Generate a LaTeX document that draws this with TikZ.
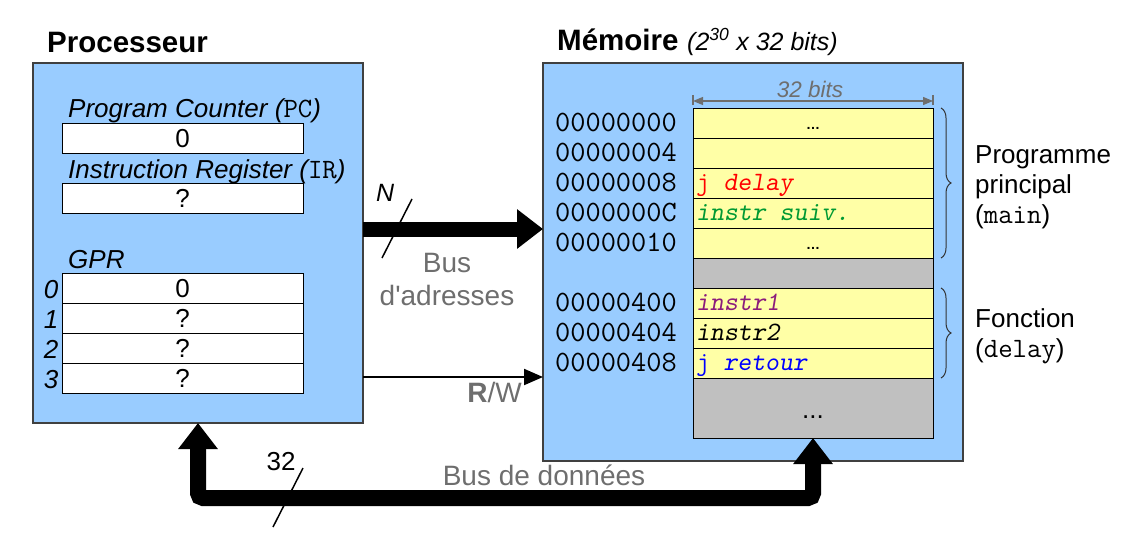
\documentclass[tikz,border=0pt]{standalone}
\usepackage{fontspec}
\setmainfont{Liberation Sans}
\newfontfamily\ttsl{Latin Modern Mono Slanted}
\usetikzlibrary{arrows.meta,decorations.pathreplacing,calc}
\definecolor{blu}{HTML}{99CCFF}
\definecolor{yel}{HTML}{FFFFA6}
\definecolor{gry}{HTML}{C0C0C0}
\definecolor{txtgray}{HTML}{6E6E6E}
\definecolor{purp}{HTML}{8B1C7C}
\definecolor{grn}{HTML}{009933}
\begin{document}
\begin{tikzpicture}[x=1pt,y=-1pt,
  unitbox/.style={draw=black!75, fill=blu, line width=1.2pt, inner sep=0pt, outer sep=0pt, anchor=north west},
  reg/.style={draw=black, fill=white, line width=1pt, minimum width=241pt, minimum height=30pt, inner sep=0pt, outer sep=0pt, anchor=north west},
  cell/.style={draw=black, fill=yel, line width=1pt, minimum width=240pt, minimum height=30pt, inner sep=0pt, outer sep=0pt, anchor=north west},
  graycell/.style={cell, fill=gry},
  big/.style={font=\fontsize{26}{28}\selectfont, inner sep=0pt, anchor=base},
  head/.style={font=\bfseries\fontsize{29.5}{31}\selectfont, inner sep=0pt, anchor=base west},
  lbl/.style={font=\itshape\fontsize{26}{28}\selectfont, inner sep=0pt, anchor=base west},
  addr/.style={font=\ttfamily\fontsize{29.5}{31}\selectfont, inner sep=0pt, anchor=base west},
  ctxt/.style={font=\ttfamily\fontsize{26.5}{28}\selectfont, inner sep=0pt, anchor=base west},
  side/.style={font=\fontsize{26}{28}\selectfont, inner sep=0pt, anchor=base west},
  buslbl/.style={font=\fontsize{28}{30}\selectfont, text=txtgray, inner sep=0pt, anchor=base},
  slash/.style={line width=1.5pt},
  thickbus/.style={line width=15pt, -{Triangle[width=38pt,length=26pt]}},
  databus/.style={line width=16pt, rounded corners=5pt, {Triangle[width=38pt,length=26pt]}-{Triangle[width=38pt,length=26pt]}},
  rwline/.style={line width=2pt, -{Triangle[width=16pt,length=19pt]}},
  brc/.style={draw=black!80, line width=1pt, decorate, decoration={brace, amplitude=10pt}},
  dim/.style={draw=txtgray, line width=1.2pt, {Triangle[width=8pt,length=10pt]}-{Triangle[width=8pt,length=10pt]}}
]
\useasboundingbox (0,0) rectangle (1126,546);

% ---------- Processor ----------
\node[head] (ptitle) at (47,52) {Processeur};
\node[unitbox, minimum width=330pt, minimum height=360pt] (proc) at (33,63) {};
\node[lbl] (pclbl) at (68,117) {Program Counter (\texttt{\upshape\fontsize{28}{30}\selectfont PC})};
\node[reg] (pc) at (62,123) {};
\node[big] at ($(pc.center)+(0,9)$) {0};
\node[lbl] (irlbl) at (68,178) {Instruction Register (\texttt{\upshape\fontsize{28}{30}\selectfont IR})};
\node[reg] (ir) at (62,183) {};
\node[big] at ($(ir.center)+(0,9)$) {?};
\node[lbl] (gprlbl) at (68,268) {GPR};
\node[reg] (g0) at (62,273) {};
\node[reg] (g1) at (62,303) {};
\node[reg] (g2) at (62,333) {};
\node[reg] (g3) at (62,363) {};
\node[big] at ($(g0.center)+(0,9)$) {0};
\node[big] at ($(g1.center)+(0,9)$) {?};
\node[big] at ($(g2.center)+(0,9)$) {?};
\node[big] at ($(g3.center)+(0,9)$) {?};
\node[big, font=\itshape\fontsize{26}{28}\selectfont] at (51,298) {0};
\node[big, font=\itshape\fontsize{26}{28}\selectfont] at (51,328) {1};
\node[big, font=\itshape\fontsize{26}{28}\selectfont] at (51,358) {2};
\node[big, font=\itshape\fontsize{26}{28}\selectfont] at (51,388) {3};

% ---------- Memory ----------
\node[head] (mtitle) at (557,50) {Mémoire};
\node[font=\itshape\fontsize{25}{27}\selectfont, inner sep=0pt, anchor=base west] (msub) at (687,50) {(2\textsuperscript{30} x 32 bits)};
\node[unitbox, minimum width=420pt, minimum height=398pt] (mem) at (543,63) {};

\node[cell] (c0) at (693,108) {};
\node[cell] (c1) at (693,138) {};
\node[cell] (c2) at (693,168) {};
\node[cell] (c3) at (693,198) {};
\node[cell] (c4) at (693,228) {};
\node[graycell] (c5) at (693,258) {};
\node[cell] (c6) at (693,288) {};
\node[cell] (c7) at (693,318) {};
\node[cell] (c8) at (693,348) {};
\node[graycell, minimum height=60pt] (c9) at (693,378) {};

% width dimension
\draw[txtgray, line width=1.2pt] (c0.north west) ++(0,-3) -- ++(0,-10);
\draw[txtgray, line width=1.2pt] (c0.north east) ++(0,-3) -- ++(0,-10);
\coordinate (dl) at ($(c0.north west)+(0,-7)$);
\coordinate (dr) at ($(c0.north east)+(0,-7)$);
\draw[dim] (dl) -- (dr);
\node[font=\itshape\fontsize{22.5}{24}\selectfont, text=txtgray, inner sep=0pt, anchor=base] at (810,97) {32 bits};

% addresses
\node[addr] at ($(c0.center -| 555,0)+(0,8)$) {00000000};
\node[addr] at ($(c1.center -| 555,0)+(0,8)$) {00000004};
\node[addr] at ($(c2.center -| 555,0)+(0,8)$) {00000008};
\node[addr] at ($(c3.center -| 555,0)+(0,8)$) {0000000C};
\node[addr] at ($(c4.center -| 555,0)+(0,8)$) {00000010};
\node[addr] at ($(c6.center -| 555,0)+(0,8)$) {00000400};
\node[addr] at ($(c7.center -| 555,0)+(0,8)$) {00000404};
\node[addr] at ($(c8.center -| 555,0)+(0,8)$) {00000408};

% cell contents
\node[font=\bfseries\fontsize{14}{16}\selectfont, inner sep=0pt, anchor=base] at ($(c0.center)+(0,6)$) {…};
\node[font=\bfseries\fontsize{14}{16}\selectfont, inner sep=0pt, anchor=base] at ($(c4.center)+(0,6)$) {…};
\node[ctxt, text=red] at ($(c2.west)+(3,7)$) {j {\ttsl delay}};
\node[ctxt, text=grn] at ($(c3.west)+(3,7)$) {{\ttsl instr suiv.}};
\node[ctxt, text=purp] at ($(c6.west)+(3,7)$) {{\ttsl instr1}};
\node[ctxt] at ($(c7.west)+(3,7)$) {{\ttsl instr2}};
\node[ctxt, text=blue] at ($(c8.west)+(3,7)$) {j {\ttsl retour}};
\node[big] at (813,418) {...};

% braces
\draw[brc] ($(c0.north east)+(8,0)$) -- ($(c4.south east)+(8,0)$);
\draw[brc] ($(c6.north east)+(8,0)$) -- ($(c8.south east)+(8,0)$);
\node[side] at (975,163) {Programme};
\node[side] at (975,193) {principal};
\node[side] at (975,223) {(\texttt{\fontsize{28}{30}\selectfont main})};
\node[side] at (975,327) {Fonction};
\node[side] at (975,357) {(\texttt{\fontsize{28}{30}\selectfont delay})};

% ---------- Buses ----------
\coordinate (abus) at (0,229);
\draw[thickbus] (proc.east |- abus) -- (mem.west |- abus);
\coordinate (n1) at (382,258);
\coordinate (n2) at (412,199);
\draw[slash] (n1) -- (n2);
\node[lbl, font=\itshape\fontsize{25}{27}\selectfont] at (376,201) {N};
\node[buslbl] at (447,272) {Bus};
\node[buslbl] at (447,305) {d\textquotesingle adresses};

\coordinate (rw) at (0,377);
\draw[rwline] (proc.east |- rw) -- (mem.west |- rw);
\node[buslbl, anchor=base east] at (522,402) {\textbf{R}/W};

\draw[databus] (proc.south) -- ++(0,75) -| (c9.south);
\coordinate (s1) at (273,527);
\coordinate (s2) at (303,468);
\draw[slash] (s1) -- (s2);
\node[big] at (281,470) {32};
\node[buslbl] at (544,485) {Bus de données};
\end{tikzpicture}
\end{document}
